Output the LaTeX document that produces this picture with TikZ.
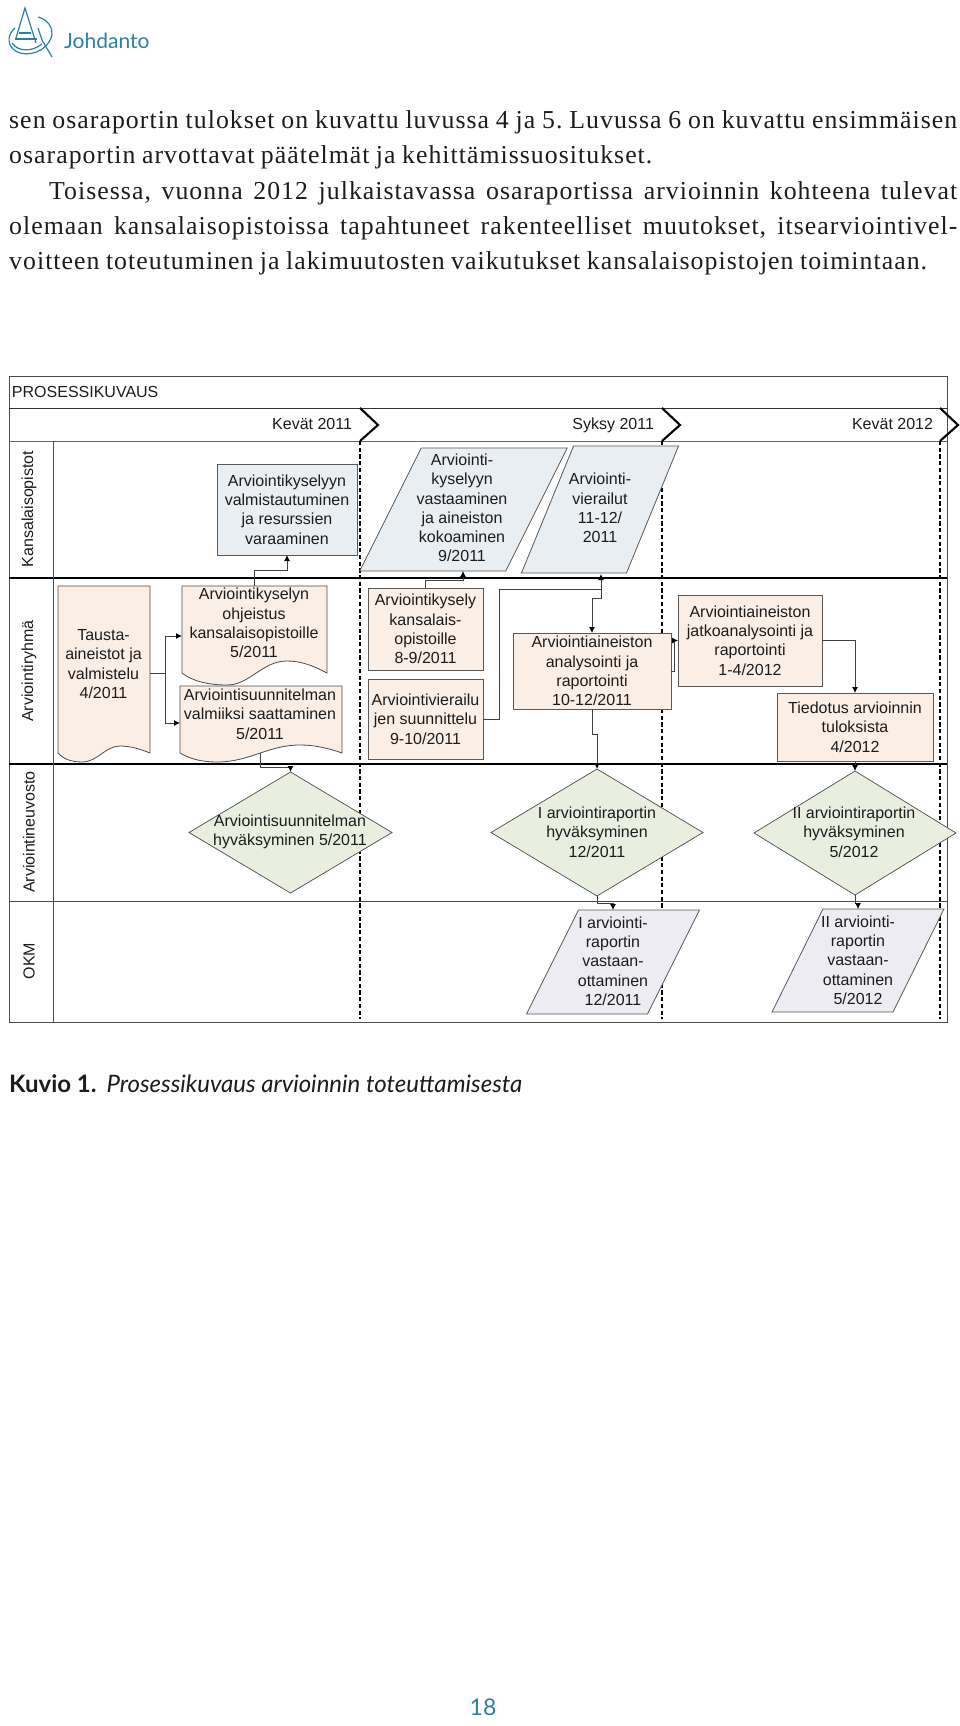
\documentclass[tikz,border=0pt]{standalone}
\usepackage{fontspec}
\setmainfont{Liberation Serif}
\setsansfont{Liberation Sans}
\newfontfamily\bodyfont[LetterSpace=4.0]{Liberation Serif}
\newfontfamily\capfont{Lato}
\usetikzlibrary{arrows.meta,shapes.geometric}
\definecolor{peach}{HTML}{FBEEE4}
\definecolor{paleblue}{HTML}{E9EEF3}
\definecolor{palegreen}{HTML}{E9EFDF}
\definecolor{palelilac}{HTML}{ECECF2}
\definecolor{bookblue}{HTML}{2B7FA8}
\definecolor{inkgray}{HTML}{1C1C1C}
\tikzset{
  chart/.style={font=\sffamily\fontsize{16}{19.3}\selectfont,text=inkgray,align=center,inner sep=0pt,outer sep=0pt},
  lane/.style={chart,rotate=90},
  procbox/.style={chart,draw=black!65,line width=0.9pt,fill=peach},
  docbox/.style={draw=black!70,line width=0.8pt,fill=peach},
  slantbox/.style={chart,draw=black!65,line width=0.8pt},
  decision/.style={chart,diamond,draw=black!70,line width=0.7pt,fill=palegreen},
  flow/.style={draw=black!75,line width=0.9pt,-{Latex[black,length=6pt,width=6pt]}},
  plainflow/.style={draw=black!75,line width=0.9pt},
  period/.style={line width=2.7pt,dash pattern=on 4.2pt off 2.5pt},
  logoline/.style={draw=bookblue,line width=1.2pt}
}
\begin{document}
\begin{tikzpicture}[x=1pt,y=-1pt]
  \useasboundingbox (0,0) rectangle (960,1726);

  % page
  \draw[logoline] (16,38) -- (25,8) -- (36,43);
  \draw[logoline] (19,33) -- (31,33);
  \draw[logoline] (15,39) -- (37,39);
  \draw[logoline] (38,17) .. controls (50,20) and (56,32) .. (49,42)
    .. controls (42,54) and (22,58) .. (13,49)
    .. controls (7,43) and (8,34) .. (15,28);
  \draw[logoline] (12,43) .. controls (18,52) and (32,52) .. (42,44);
  \draw[logoline] (38,28) -- (42,40) -- (52,57);
  \node[font=\capfont\fontsize{21}{25}\selectfont,text=bookblue,anchor=base west,inner sep=0pt] (chapter) at (64,49) {Johdanto};
  \node[font=\bodyfont\fontsize{25.8}{35.25}\selectfont,text=inkgray,text width=948pt,align=justify,anchor=north west,inner sep=0pt] (body) at (9,110.5)
    {\frenchspacing\hyphenpenalty=10000\tolerance=10000\parindent=0pt
     \spaceskip=.25em plus .4em minus .09em
     sen osaraportin tulokset on kuvattu luvussa 4 ja 5. Luvussa 6 on kuvattu ensimmäisen\linebreak
     osaraportin arvottavat päätelmät ja kehittämissuositukset.\par
     \hspace*{40pt}Toisessa, vuonna 2012 julkaistavassa osaraportissa arvioinnin kohteena tulevat\linebreak
     olemaan kansalaisopistoissa tapahtuneet rakenteelliset muutokset, itsearviointivel-\linebreak
     voitteen toteutuminen ja lakimuutosten vaikutukset kansalaisopistojen toimintaan.\par};
  \node[font=\capfont\fontsize{24}{28}\selectfont,text=inkgray,anchor=base west,inner sep=0pt] (caption) at (9,1092)
    {\textbf{Kuvio 1.}\hspace{10pt}\textit{Prosessikuvaus arvioinnin toteuttamisesta}};
  \node[font=\capfont\fontsize{23}{27}\selectfont,text=bookblue,anchor=base,inner sep=0pt] (pageno) at (483,1715) {18};

  % frame
  \draw[black!70,line width=1pt] (9,376) rectangle (947,1022);
  \draw[black!80,line width=1pt] (9,408) -- (947,408);
  \draw[black!60,line width=1pt] (9,441) -- (947,441);
  \draw[black,line width=1.1pt] (9,578) -- (947,578);
  \draw[black,line width=1.1pt] (9,764) -- (947,764);
  \draw[black!70,line width=0.8pt] (9,901) -- (947,901);
  \draw[black!70,line width=1pt] (53,441) -- (53,1022);
  \foreach \xpos in {360,662,940} {
    \draw[period] (\xpos,441) -- (\xpos,1019);
    \draw[line width=2.1pt] (\xpos,408) -- (\xpos+18,425) -- (\xpos,441);
  }
  \node[chart,anchor=base west] (title) at (12,397) {PROSESSIKUVAUS};
  \node[chart,anchor=base east] (spring) at (352,429) {Kevät 2011};
  \node[chart,anchor=base east] (autumn) at (654,429) {Syksy 2011};
  \node[chart,anchor=base east] (nextspring) at (933,429) {Kevät 2012};
  \node[lane] (laneA) at (29,509) {Kansalaisopistot};
  \node[lane] (laneB) at (29,671) {Arviointiryhmä};
  \node[lane] (laneC) at (29,832) {Arviointineuvosto};
  \node[lane] (laneD) at (29,961) {OKM};

  % documents
  \draw[docbox] (58,586) -- (150,586) -- (150,753)
    .. controls (140,749) and (130,746) .. (120,746)
    .. controls (105,746) and (98,762) .. (82,762)
    .. controls (72,762) and (63,759) .. (58,753) -- cycle;
  \draw[docbox] (182,586) -- (327,586) -- (327,673)
    .. controls (312,665) and (300,661) .. (287,661)
    .. controls (262,661) and (250,685) .. (227,685)
    .. controls (208,685) and (192,681) .. (182,673) -- cycle;
  \draw[docbox] (180,686) -- (342,686) -- (342,753)
    .. controls (328,748) and (314,745) .. (300,745)
    .. controls (268,745) and (250,762) .. (217,762)
    .. controls (202,762) and (190,759) .. (180,753) -- cycle;
  \node[chart,minimum width=92pt] (tausta) at (103.5,664) {Tausta-\\aineistot ja\\valmistelu\\4/2011};
  \node[chart,minimum width=145pt,minimum height=74pt] (ohje) at (254,623) {Arviointikyselyn\\ohjeistus\\kansalaisopistoille\\5/2011};
  \node[chart,minimum width=162pt,minimum height=78pt] (suunn) at (260,714) {Arviointisuunnitelman\\valmiiksi saattaminen\\5/2011};

  % boxes
  \node[procbox,fill=paleblue,minimum width=140pt,minimum height=91pt] (valm) at (287,509.5) {Arviointikyselyyn\\valmistautuminen\\ja resurssien\\varaaminen};
  \node[procbox,minimum width=115pt,minimum height=82pt] (kysely) at (425.5,629) {Arviointikysely\\kansalais-\\opistoille\\8-9/2011};
  \node[procbox,minimum width=115pt,minimum height=80pt] (vier) at (425.5,719) {Arviointivierailu\\jen suunnittelu\\9-10/2011};
  \node[procbox,minimum width=158pt,minimum height=76pt] (anal) at (592,671) {Arviointiaineiston\\analysointi ja\\raportointi\\10-12/2011};
  \node[procbox,minimum width=144pt,minimum height=91pt] (jatko) at (750,640.5) {Arviointiaineiston\\jatkoanalysointi ja\\raportointi\\1-4/2012};
  \node[procbox,minimum width=156pt,minimum height=68pt] (tied) at (855,727) {Tiedotus arvioinnin\\tuloksista\\4/2012};

  % slanted boxes
  \node[slantbox,fill=paleblue,xslant=0.5,minimum width=146pt,minimum height=123pt] (p1) at (463.5,509.5) {};
  \node[slantbox,fill=paleblue,xslant=0.41,minimum width=105pt,minimum height=127pt] (p2) at (600,509.5) {};
  \node[slantbox,fill=palelilac,xslant=0.5,minimum width=121pt,minimum height=104pt] (p3) at (613,962) {};
  \node[slantbox,fill=palelilac,xslant=0.495,minimum width=121pt,minimum height=103pt] (p4) at (858,960.5) {};
  \node[chart] (p1text) at (462,508) {Arviointi-\\kyselyyn\\vastaaminen\\ja aineiston\\kokoaminen\\9/2011};
  \node[chart] (p2text) at (600,508) {Arviointi-\\vierailut\\11-12/\\2011};
  \node[chart] (p3text) at (613,961) {I arviointi-\\raportin\\vastaan-\\ottaminen\\12/2011};
  \node[chart] (p4text) at (858,960) {II arviointi-\\raportin\\vastaan-\\ottaminen\\5/2012};

  % decisions
  \node[decision,aspect=1.66,minimum width=203pt,minimum height=121pt] (d1) at (290.5,832.5) {};
  \node[decision,aspect=1.67,minimum width=212pt,minimum height=127pt] (d2) at (597,832.5) {};
  \node[decision,aspect=1.63,minimum width=202pt,minimum height=124pt] (d3) at (855,833) {};
  \node[chart] (d1text) at (290,832) {Arviointisuunnitelman\\hyväksyminen 5/2011};
  \node[chart] (d2text) at (597,832) {I arviointiraportin\\hyväksyminen\\12/2011};
  \node[chart] (d3text) at (854,832) {II arviointiraportin\\hyväksyminen\\5/2012};

  % connectors
  \coordinate (j1) at (165,673);
  \coordinate (ohjein) at (182,636);
  \coordinate (suunin) at (180,723);
  \coordinate (v1) at (499,589);
  \coordinate (v2) at (601,589);
  \coordinate (p1in) at (463,571);
  \coordinate (p2in) at (601,574);
  \coordinate (p3in) at (613,910);
  \coordinate (p4in) at (858,909);
  \draw[plainflow] (tausta.east |- j1) -- (j1);
  \draw[flow] (j1) |- (ohjein);
  \draw[flow] (j1) |- (suunin);
  \draw[flow] (ohje.north) -- ++(0,-16) -| (valm.south);
  \draw[flow] (suunn.south) -- ++(0,14) -| (d1.north);
  \draw[flow] (kysely.north) -- ++(0,-8) -| (p1in);
  \draw[flow] (vier.east) -| (v1) -- (v2) -- (p2in);
  \draw[flow] (v2) -- ++(0,9) -| (anal.north);
  \draw[flow] (anal.east) -- ++(3,0) |- (jatko.west);
  \draw[flow] (jatko.east) -| (tied.north);
  \draw[flow] (anal.south) -- ++(0,25) -| (d2.north);
  \draw[flow] (tied.south) -- (d3.north);
  \draw[flow] (d2.south) -- ++(0,7) -| (p3in);
  \draw[flow] (d3.south) -- ++(0,8) -| (p4in);
\end{tikzpicture}
\end{document}
